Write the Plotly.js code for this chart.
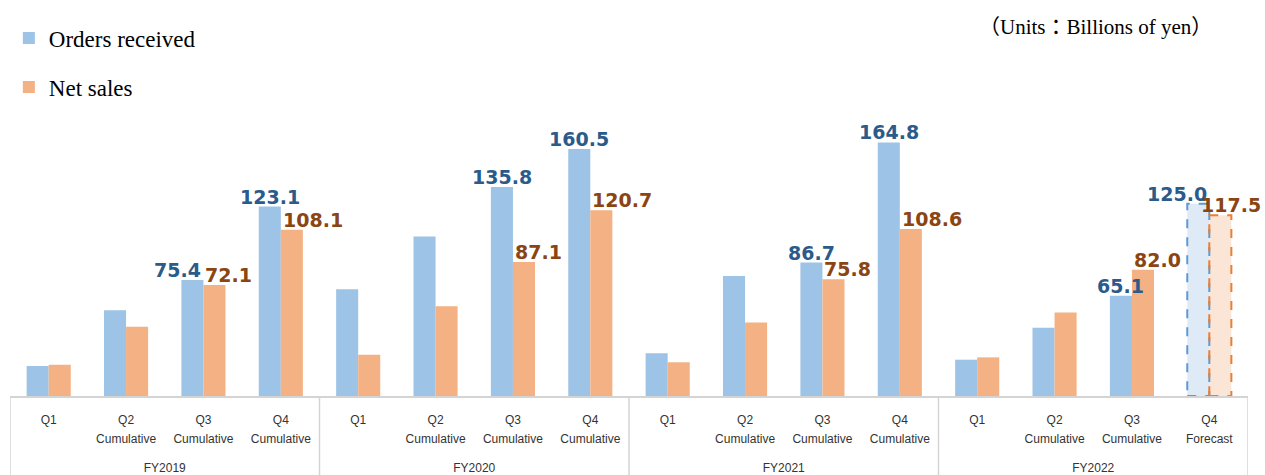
<!DOCTYPE html>
<html><head><meta charset="utf-8">
<script src="https://cdn.plot.ly/plotly-3.0.1.min.js"></script>
<style>html,body{margin:0;padding:0;background:#fff}</style>
</head><body><div id="chart" style="width:1265px;height:475px"></div>
<script>
// ---- data ----
const quarterLabels = ['Q1','Q2','Q3','Q4','Q1','Q2','Q3','Q4','Q1','Q2','Q3','Q4','Q1','Q2','Q3','Q4'];
const quarterSubLabels = ['','Cumulative','Cumulative','Cumulative','','Cumulative','Cumulative','Cumulative',
                          '','Cumulative','Cumulative','Cumulative','','Cumulative','Cumulative','Forecast'];
const fiscalYears = ['FY2019','FY2020','FY2021','FY2022'];
const quartersPerYear = 4;
const ordersReceived = [19.5, 55.8, 75.4, 123.1, 69.3, 103.7, 135.8, 160.5, 27.7, 77.9, 86.7, 164.8, 23.6, 44.4, 65.1, 125.0];
const netSales       = [20.3, 45.0, 72.1, 108.1, 26.8, 58.4, 87.1, 120.7, 21.9, 47.8, 75.8, 108.6, 25.1, 54.3, 82.0, 117.5];
const isForecast = [false,false,false,false,false,false,false,false,false,false,false,false,false,false,false,true];
const isLabelled = [false,false,true,true,false,false,true,true,false,false,true,true,false,false,true,true];
const seriesNames = ['Orders received','Net sales'];
const unitsNote = '（Units：Billions of yen）';

// ---- style / layout ----
const W = 1265, H = 475;
const M = {l:10, r:17, t:119, b:79, autoexpand:false};
const plotW = W - M.l - M.r, plotH = H - M.t - M.b;
const Y_MAX = 180;
const X_MIN = -0.5, X_MAX = quarterLabels.length - 0.5;
const BARGAP = 0.43;
const barW = (1 - BARGAP) / 2;
const C = {
  blue:'#9DC3E6', blueF:'#DEEBF7', blueLine:'#5B9BD5', blueText:'#2A5B8A',
  orange:'#F4B183', orangeF:'#FBE5D6', orangeLine:'#ED7D31', orangeText:'#8A4513',
  axis:'#D4D4D4', tick:'#333333'
};
const idx = quarterLabels.map((_, i) => i);
const pxPerUnit = plotH / Y_MAX;
const pxPerCat = plotW / (X_MAX - X_MIN);
const LABEL_SIZE = 19;
const glyphUnits = (LABEL_SIZE * 0.75) / pxPerUnit;
// approximate rendered width of a bold DejaVu numeric label
const labelWidthPx = (s) => [...s].reduce((w, ch) => w + (ch === '.' ? 0.38 : 0.696), 0) * LABEL_SIZE + 4;

const traces = [
  {type:'bar', x: idx, y: ordersReceived, name: seriesNames[0], legendgroup:'a',
   marker:{color: isForecast.map(f => f ? C.blueF : C.blue)}, hoverinfo:'skip'},
  {type:'bar', x: idx, y: netSales, name: seriesNames[1], legendgroup:'b',
   marker:{color: isForecast.map(f => f ? C.orangeF : C.orange)}, hoverinfo:'skip'},
  {type:'scatter', x: [], y: [], xaxis:'x2', showlegend:false},
  {type:'scatter', x: [], y: [], xaxis:'x3', showlegend:false}
];

const shapes = [];
idx.forEach(i => {
  if (!isForecast[i]) return;
  shapes.push({type:'rect', xref:'x', yref:'y', x0: i - barW, x1: i, y0: 0, y1: ordersReceived[i],
    line:{color:C.blueLine, width:2, dash:'dash'}, fillcolor:'rgba(0,0,0,0)', layer:'above'});
  shapes.push({type:'rect', xref:'x', yref:'y', x0: i, x1: i + barW, y0: 0, y1: netSales[i],
    line:{color:C.orangeLine, width:2, dash:'dash'}, fillcolor:'rgba(0,0,0,0)', layer:'above'});
});
for (let g = 0; g <= fiscalYears.length; g++) {
  shapes.push({type:'line', xref:'x', yref:'paper', x0: g*quartersPerYear - 0.5, x1: g*quartersPerYear - 0.5,
    y0: 0, y1: -M.b/plotH, line:{color:C.axis, width:1.5}});
}

const labelFont = (color) => ({family:'DejaVu Sans, Liberation Sans, sans-serif', size:LABEL_SIZE, color, weight:'bold'});
const annotations = [];
idx.forEach(i => {
  if (!isLabelled[i]) return;
  const collide = Math.abs(ordersReceived[i] - netSales[i]) < glyphUnits;
  annotations.push({xref:'x', yref:'y', x: collide ? i : i - barW/2, y: ordersReceived[i],
    xanchor: collide ? 'right' : 'center', yanchor:'bottom', yshift:-3, showarrow:false,
    text:'<b>' + ordersReceived[i].toFixed(1) + '</b>', font: labelFont(C.blueText)});
  const txt = netSales[i].toFixed(1);
  const leftPx = M.l + (i - X_MIN) * pxPerCat;
  const overflow = Math.max(0, leftPx + labelWidthPx(txt) - (W - 2));
  annotations.push({xref:'x', yref:'y', x: i, y: netSales[i],
    xanchor:'left', yanchor:'bottom', yshift:-3, xshift: -overflow, showarrow:false,
    text:'<b>' + txt + '</b>', font: labelFont(C.orangeText)});
});
annotations.push({xref:'paper', yref:'paper', x: (1095 - M.l)/plotW, y: (H - M.b - 27)/plotH,
  xanchor:'center', yanchor:'middle', showarrow:false, text: unitsNote,
  font:{family:'Liberation Serif, Noto Sans CJK JP, serif', size:21, color:'#000'}});

const tickFont = {family:'Liberation Sans, Arial, sans-serif', size:12, color:C.tick};
const baseX = {range:[X_MIN, X_MAX], showgrid:false, zeroline:false, fixedrange:true,
  automargin:false, ticks:'outside', tickcolor:'rgba(0,0,0,0)', tickfont: tickFont};
const layout = {
  width: W, height: H, margin: M, paper_bgcolor:'#fff', plot_bgcolor:'#fff',
  barmode:'group', bargap: BARGAP, bargroupgap: 0,
  showlegend: true,
  legend:{xref:'container', yref:'container', x: 0.007, y: 0.965, xanchor:'left', yanchor:'top',
    orientation:'v', tracegroupgap: 16, bgcolor:'rgba(0,0,0,0)',
    font:{family:'Liberation Serif, Times New Roman, serif', size:23, color:'#000'}},
  xaxis: Object.assign({}, baseX, {tickmode:'array', tickvals: idx, ticktext: quarterLabels, ticklen: 12,
    showline:true, linecolor:C.axis, linewidth:1.5}),
  xaxis2: Object.assign({}, baseX, {overlaying:'x', anchor:'y', side:'bottom', tickmode:'array',
    tickvals: idx, ticktext: quarterSubLabels, ticklen: 32, showline:false}),
  xaxis3: Object.assign({}, baseX, {overlaying:'x', anchor:'y', side:'bottom', tickmode:'array',
    tickvals: fiscalYears.map((_, g) => g*quartersPerYear + (quartersPerYear - 1)/2),
    ticktext: fiscalYears, ticklen: 61, showline:false}),
  yaxis: {range:[0, Y_MAX], visible:false, fixedrange:true},
  shapes, annotations
};
Plotly.newPlot('chart', traces, layout, {displayModeBar:false, staticPlot:true});
</script></body></html>
